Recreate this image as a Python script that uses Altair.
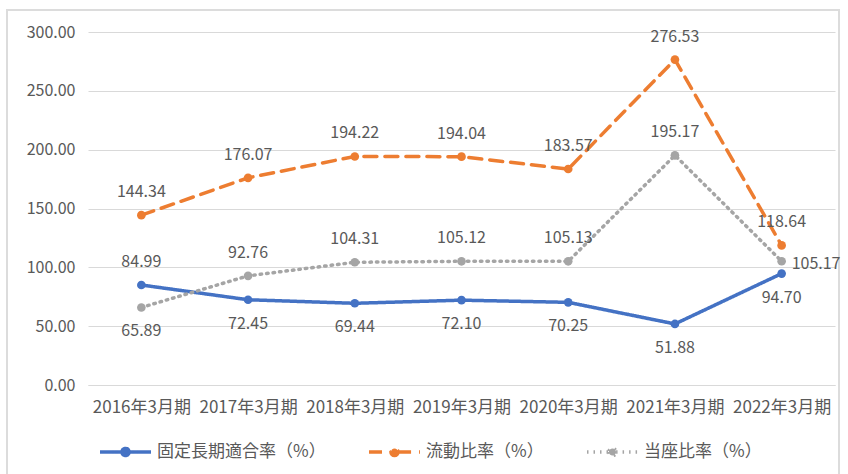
import altair as alt
import pandas as pd

periods = ["2016年3月期", "2017年3月期", "2018年3月期", "2019年3月期",
           "2020年3月期", "2021年3月期", "2022年3月期"]
series_names = ["固定長期適合率（%）", "流動比率（%）", "当座比率（%）"]
fixed_ratio = [84.99, 72.45, 69.44, 72.10, 70.25, 51.88, 94.70]
current_ratio = [144.34, 176.07, 194.22, 194.04, 183.57, 276.53, 118.64]
quick_ratio = [65.89, 92.76, 104.31, 105.12, 105.13, 195.17, 105.17]
y_ticks = [0, 50, 100, 150, 200, 250, 300]

colors = ["#4472C4", "#ED7D31", "#A5A5A5"]
dashes = [[1, 0], [13, 8], [1.5, 5]]

rows = []
for name, vals in zip(series_names, [fixed_ratio, current_ratio, quick_ratio]):
    for p, v in zip(periods, vals):
        rows.append({"series": name, "period": p, "value": v})
df = pd.DataFrame(rows)

# label placement per point (style, not data)
place = []
for r in rows:
    s, p = r["series"], r["period"]
    if s == series_names[0]:
        pos = "above" if p == periods[0] else "below"
    elif s == series_names[1]:
        pos = "above"
    else:
        pos = "below" if p == periods[0] else ("right" if p == periods[-1] else "above")
    place.append(pos)
df["pos"] = place

FONT = "Noto Sans CJK JP"
TXT = "#595959"

# legend symbol: line with a dot in the middle
LEG_PATH = "M-1,0H-0.14M0.14,0H1M-0.14,0A0.14,0.14 0 1 0 0.14,0A0.14,0.14 0 1 0 -0.14,0Z"

x_enc = alt.X("period:N", sort=periods, title=None,
              scale=alt.Scale(type="point", padding=0.5),
              axis=alt.Axis(labelAngle=0, labelFontSize=17, labelColor=TXT, labelFont=FONT,
                            domainColor="#d9d9d9", domainWidth=1.2, ticks=False,
                            labelPadding=14, grid=False))
y_enc = alt.Y("value:Q", title=None, scale=alt.Scale(domain=[0, 300], nice=False),
              axis=alt.Axis(values=y_ticks, format=".2f", labelFontSize=16, labelColor=TXT,
                            labelFont=FONT, domain=False, ticks=False, labelPadding=13,
                            gridColor="#d9d9d9", gridWidth=1.2))


def make_legend():
    return alt.Legend(orient="none", legendX=10, legendY=392, direction="horizontal",
                      labelFont=FONT, labelFontSize=17, labelColor=TXT, labelLimit=400,
                      symbolType=LEG_PATH, symbolSize=2600, symbolStrokeWidth=3.5,
                      columnPadding=36, labelOffset=4)


color_scale = alt.Scale(domain=series_names, range=colors)
color_enc = alt.Color("series:N", scale=color_scale, title=None, legend=make_legend())
dash_enc = alt.StrokeDash("series:N", scale=alt.Scale(domain=series_names, range=dashes),
                          title=None, legend=make_legend())

base = alt.Chart(df).encode(x=x_enc, y=y_enc)

frame = alt.Chart(pd.DataFrame({"f": [0]})).mark_rect(
    fill=None, stroke="#dcdcdc", strokeWidth=2
).encode(x=alt.value(-81), x2=alt.value(751), y=alt.value(-22), y2=alt.value(445))

lines = base.mark_line(strokeWidth=3.5, strokeCap="round").encode(
    color=color_enc, strokeDash=dash_enc, detail="series:N")
pts = base.mark_point(filled=True, size=75, opacity=1).encode(
    color=alt.Color("series:N", scale=color_scale, title=None, legend=make_legend()))


def labels(pos, **kw):
    return base.transform_filter(alt.datum.pos == pos).mark_text(
        font=FONT, fontSize=16, color=TXT, baseline="middle", **kw
    ).encode(text=alt.Text("value:Q", format=".2f"))


above = labels("above", dy=-23)
below = labels("below", dy=24)
right = labels("right", align="left", dx=10, dy=3)

chart = alt.layer(frame, lines, pts, above, below, right).properties(
    width=747, height=353,
    autosize=alt.AutoSizeParams(type="none"),
    padding={"left": 88, "top": 32, "right": 13, "bottom": 89},
    background="white",
).configure_view(stroke=None)

chart.save("out.html", embed_options={"renderer": "svg", "actions": False})
